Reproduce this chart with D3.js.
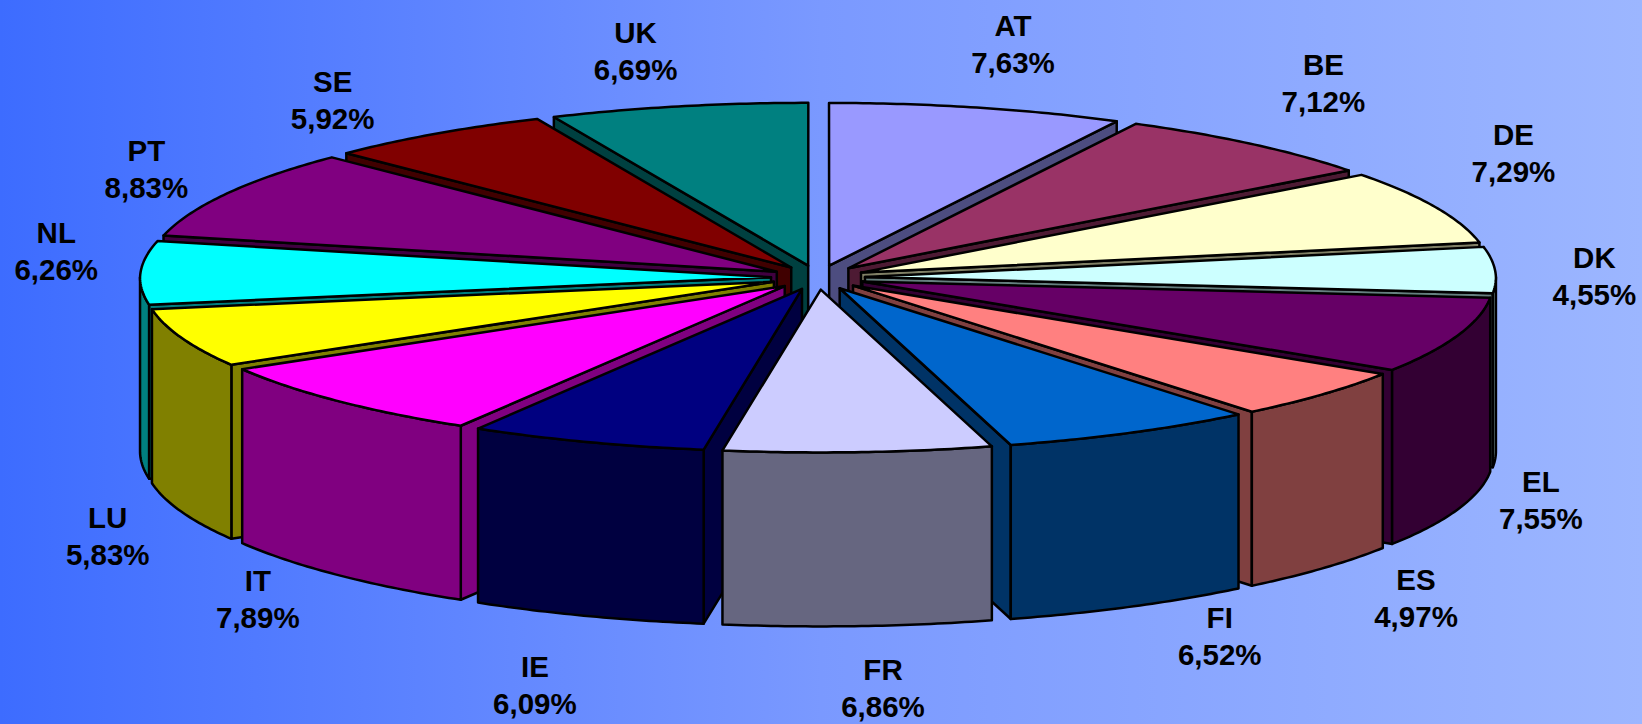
<!DOCTYPE html>
<html>
<head>
<meta charset="utf-8">
<title>Pie</title>
<script src="https://cdn.jsdelivr.net/npm/d3@7"></script>
<style>
    html, body { margin: 0; padding: 0; overflow: hidden; }
    text { font-family: "Liberation Sans", Arial, sans-serif; font-weight: bold; font-size: 29.5px; fill: #000; }
</style>
</head>
<body>
<svg id="chart" width="1642" height="724"></svg>
<script>
const countries = ['AT', 'BE', 'DE', 'DK', 'EL', 'ES', 'FI', 'FR', 'IE', 'IT', 'LU', 'NL', 'PT', 'SE', 'UK'];
const shares = [7.63, 7.12, 7.29, 4.55, 7.55, 4.97, 6.52, 6.86, 6.09, 7.89, 5.83, 6.26, 8.83, 5.92, 6.69];
const topColors = ['#9999FF', '#993366', '#FFFFCC', '#CCFFFF', '#660066', '#FF8080', '#0066CC', '#CCCCFF',
    '#000080', '#FF00FF', '#FFFF00', '#00FFFF', '#800080', '#800000', '#008080'];

// where each label sits relative to the rim of its slice
const labelNudge = [[34, -63], [67, -61], [75, -53], [99, 7], [83, -9], [93, 30], [89, 30], [25, 62],
    [-52, 70], [-80, 25], [-74, 25], [-84, -21], [-77, -24], [-99, -33], [-41, -55]];

const width = 1642;
const height = 724;
const cx = 818;
const cy = 277.5;
const radius = 631;
const tilt = 0.258;     // squash of the circle on screen
const explode = 47;
const depth = 174;
const lineGap = 37;
const backShrink = 0.012;   // the far half of the pie is a little narrower

const formatShare = d3.formatLocale({decimal: ',', thousands: '.', grouping: [3], currency: ['', '']}).format('.2f');

// the scales take unit circle coordinates to the screen
const xScale = d3.scaleLinear().domain([-1, 1]).range([cx - radius, cx + radius]);
const yScale = d3.scaleLinear().domain([-1, 1]).range([cy - radius * tilt, cy + radius * tilt]);

const slices = d3.pie().sort(null)(shares).map((s, i) => {
    const mid = (s.startAngle + s.endAngle) / 2;
    return {
        name: countries[i],
        value: shares[i],
        color: topColors[i],
        start: s.startAngle,
        end: s.endAngle,
        mid: mid,
        nudge: labelNudge[i],
        ox: Math.sin(mid) * explode / radius,
        oy: -Math.cos(mid) * explode / radius
    };
});

/**
 * Screen position of the point at an angle and unit radius on a slice
 * @param slice
 * @param angle
 * @param r
 * @param drop how far down the wall
 */
function project(slice, angle, r, drop = 0) {
    const ux = slice.ox + r * Math.sin(angle);
    const uy = slice.oy - r * Math.cos(angle);
    const squeeze = 1 + backShrink * Math.min(0, uy);
    return [xScale(ux * squeeze), yScale(uy) + drop];
}

function arcPoints(slice, a0, a1, drop = 0) {
    const steps = Math.max(2, Math.ceil((a1 - a0) * 90));
    return d3.range(steps + 1).map(i => project(slice, a0 + (a1 - a0) * i / steps, 1, drop));
}

const polygon = d3.line().curve(d3.curveLinearClosed);

function topPath(slice) {
    return polygon([project(slice, 0, 0), ...arcPoints(slice, slice.start, slice.end)]);
}

function cutFacePath(slice, angle) {
    return polygon([
        project(slice, angle, 0),
        project(slice, angle, 1),
        project(slice, angle, 1, depth),
        project(slice, angle, 0, depth)
    ]);
}

// only the front half of the rim has a wall we can see
function wallPath(slice) {
    const a0 = Math.max(slice.start, Math.PI / 2);
    const a1 = Math.min(slice.end, Math.PI * 3 / 2);
    if (a1 <= a0) return null;
    return polygon([...arcPoints(slice, a0, a1), ...arcPoints(slice, a0, a1, depth).reverse()]);
}

function darken(color) {
    const c = d3.rgb(color);
    return d3.rgb(c.r / 2, c.g / 2, c.b / 2).formatHex();
}

const svg = d3.select('#chart');

const gradient = svg.append('defs').append('linearGradient')
    .attr('id', 'background')
    .attr('x1', 0).attr('x2', 1).attr('y1', 0).attr('y2', 0);
gradient.append('stop').attr('offset', 0).attr('stop-color', '#3D6CFF');
gradient.append('stop').attr('offset', 0.5).attr('stop-color', '#7A99FF');
gradient.append('stop').attr('offset', 1).attr('stop-color', '#9CB6FF');

svg.append('rect')
    .attr('width', width)
    .attr('height', height)
    .attr('fill', 'url(#background)');

// painter's order, the slices at the back go first
const ordered = slices.slice().sort((a, b) => d3.ascending(-Math.cos(a.mid), -Math.cos(b.mid)));

const sliceGroups = svg.selectAll('.slice')
    .data(ordered, d => d.name)
    .enter().append('g')
    .attr('class', 'slice')
    .attr('stroke', 'black')
    .attr('stroke-width', 2.5)
    .attr('stroke-linejoin', 'round');

// a cut face shows when the slice lies away from the viewer behind it
sliceGroups.filter(d => d.end < Math.PI)
    .append('path')
    .attr('fill', d => darken(d.color))
    .attr('d', d => cutFacePath(d, d.end));

sliceGroups.filter(d => d.start > Math.PI)
    .append('path')
    .attr('fill', d => darken(d.color))
    .attr('d', d => cutFacePath(d, d.start));

sliceGroups.filter(d => wallPath(d) !== null)
    .append('path')
    .attr('fill', d => darken(d.color))
    .attr('d', wallPath);

sliceGroups.append('path')
    .attr('fill', d => d.color)
    .attr('d', topPath);

// labels
const labels = svg.selectAll('.label')
    .data(slices)
    .enter().append('g')
    .attr('class', 'label')
    .attr('text-anchor', 'middle')
    .attr('transform', d => {
        const x = xScale(d.ox + Math.sin(d.mid));
        const y = yScale(d.oy - Math.cos(d.mid)) + (Math.cos(d.mid) < 0 ? depth : 0);
        return `translate(${x + d.nudge[0]}, ${y + d.nudge[1]})`;
    });

labels.append('text')
    .attr('y', -lineGap / 2 + 10)
    .text(d => d.name);

labels.append('text')
    .attr('y', lineGap / 2 + 10)
    .text(d => `${formatShare(d.value)}%`);
</script>
</body>
</html>
